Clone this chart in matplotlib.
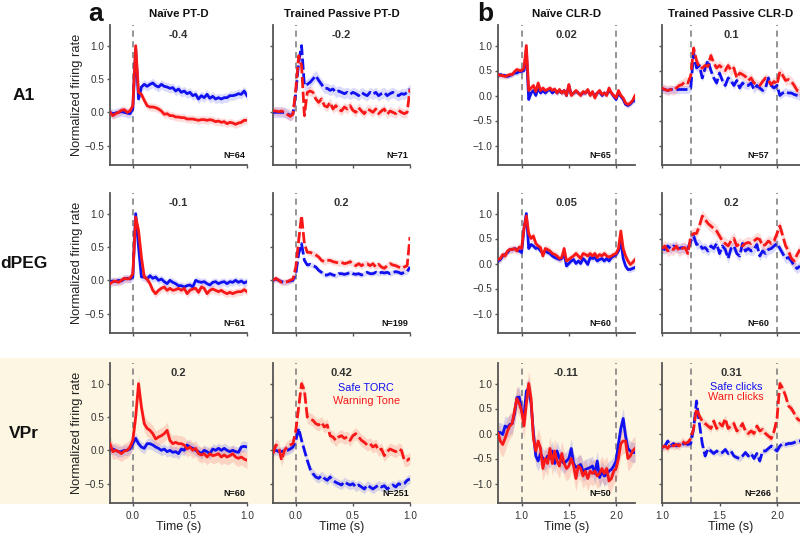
import numpy as np
import matplotlib
matplotlib.use('Agg')
import matplotlib.pyplot as plt
from matplotlib.patches import Rectangle
from matplotlib.ticker import FuncFormatter

plt.rcParams['font.family'] = ['Liberation Sans', 'DejaVu Sans']

# ---- data (normalized firing rate, 25 ms bins) ----
dt = 0.025
col_start = [-0.2, -0.2, 0.75, 1.0]   # first bin time of each column

row_names = ['A1', 'dPEG', 'VPr']
col_titles = ['Naïve PT-D', 'Trained Passive PT-D', 'Naïve CLR-D', 'Trained Passive CLR-D']
corr_vals = [['-0.4', '-0.2', '0.02', '0.1'],
             ['-0.1', '0.2', '0.05', '0.2'],
             ['0.2', '0.42', '-0.11', '0.31']]
n_units = [[64, 71, 65, 57],
           [61, 199, 60, 60],
           [60, 251, 50, 266]]
sem_safe = [[0.07, 0.08, 0.05, 0.08],
            [0.06, 0.04, 0.06, 0.10],
            [0.08, 0.07, 0.20, 0.06]]
sem_warn = [[0.06, 0.07, 0.06, 0.10],
            [0.06, 0.05, 0.08, 0.12],
            [0.12, 0.09, 0.25, 0.08]]

# A1
a1_pt_naive_safe = [0.0, -0.02, -0.01, 0.0, 0.01, 0.0, -0.01, -0.02,
                    0.05, 0.95, 0.2, 0.38, 0.42, 0.39, 0.42, 0.44,
                    0.4, 0.38, 0.42, 0.39, 0.38, 0.36, 0.37, 0.32,
                    0.35, 0.3, 0.32, 0.28, 0.3, 0.25, 0.27, 0.2,
                    0.25, 0.22, 0.27, 0.21, 0.24, 0.2, 0.22, 0.2,
                    0.22, 0.22, 0.25, 0.25, 0.26, 0.28, 0.27, 0.32,
                    0.25]
a1_pt_naive_warn = [0.0, -0.05, -0.02, 0.0, 0.03, 0.04, 0.0, 0.02,
                    0.1, 1.0, 0.3, 0.27, 0.18, 0.1, 0.08, 0.08,
                    0.07, 0.05, 0.02, -0.03, -0.02, -0.05, -0.05, -0.07,
                    -0.07, -0.08, -0.08, -0.1, -0.1, -0.1, -0.11, -0.12,
                    -0.11, -0.11, -0.12, -0.11, -0.12, -0.14, -0.13, -0.15,
                    -0.14, -0.17, -0.15, -0.16, -0.18, -0.16, -0.15, -0.12,
                    -0.12]
a1_pt_trained_safe = [0.0, 0.0, 0.0, 0.0, 0.0, -0.02, -0.05, -0.02,
                      0.3, 0.75, 1.0, 0.4, 0.42, 0.45, 0.5, 0.55,
                      0.48, 0.42, 0.36, 0.36, 0.33, 0.35, 0.3, 0.32,
                      0.3, 0.28, 0.3, 0.27, 0.3, 0.28, 0.25, 0.3,
                      0.27, 0.25, 0.3, 0.27, 0.3, 0.25, 0.28, 0.3,
                      0.25, 0.28, 0.3, 0.27, 0.25, 0.28, 0.27, 0.3,
                      0.35]
a1_pt_trained_warn = [0.02, 0.02, 0.01, 0.02, 0.0, -0.03, -0.06, -0.03,
                      0.35, 0.85, 0.7, -0.05, 0.3, 0.32, 0.3, 0.2,
                      0.15, 0.2, 0.1, 0.08, 0.15, 0.05, 0.1, 0.05,
                      0.02, 0.08, 0.05, 0.1, 0.03, 0.0, 0.07, 0.02,
                      -0.02, 0.05, 0.03, 0.0, 0.05, -0.02, 0.02, 0.05,
                      -0.03, 0.02, 0.0, -0.02, 0.03, 0.0, -0.02, 0.0,
                      0.35]
a1_clr_naive_safe = [0.4, 0.42, 0.4, 0.4, 0.38, 0.4, 0.42, 0.45, 0.45, 0.48,
                     0.48, 0.5, 0.9, -0.08, 0.05, 0.1, 0.0, 0.15, 0.05, 0.1,
                     0.05, 0.1, 0.12, 0.05, 0.1, 0.05, 0.1, 0.05, 0.1, 0.0,
                     0.2, 0.02, 0.05, 0.08, 0.05, 0.02, 0.05, 0.05, 0.1, 0.02,
                     0.05, 0.0, 0.05, 0.08, 0.0, 0.05, 0.02, 0.1, 0.05, -0.02,
                     -0.08, 0.05, -0.02, -0.08, -0.18, -0.2, -0.17, -0.12, -0.1]
a1_clr_naive_warn = [0.42, 0.4, 0.4, 0.38, 0.4, 0.42, 0.42, 0.48, 0.52, 0.5,
                     0.5, 0.55, 1.0, 0.1, 0.15, 0.2, 0.08, 0.25, 0.1, 0.15,
                     0.1, 0.12, 0.15, 0.1, 0.13, 0.05, 0.12, 0.05, 0.1, 0.0,
                     0.22, 0.0, 0.05, 0.1, 0.05, 0.0, 0.08, 0.05, 0.12, 0.0,
                     0.08, -0.05, 0.05, 0.1, 0.02, 0.05, 0.0, 0.15, 0.05, 0.0,
                     -0.05, 0.1, 0.0, -0.05, -0.15, -0.18, -0.15, -0.1, 0.0]
a1_clr_trained_safe = [0.13, 0.12, 0.1, 0.12, 0.12, 0.12, 0.12, 0.12, 0.12, 0.12,
                       0.15, 0.85, 0.55, 0.6, 0.35, 0.55, 0.7, 0.5, 0.35, 0.25,
                       0.45, 0.3, 0.2, 0.35, 0.3, 0.2, 0.3, 0.15, 0.25, 0.2,
                       0.2, 0.25, 0.12, 0.2, 0.15, 0.1, 0.15, 0.35, 0.2, 0.15,
                       0.2, 0.0, 0.05, 0.08, 0.05, 0.05, 0.02, 0.0, -0.02]
a1_clr_trained_warn = [0.15, 0.12, 0.1, 0.12, 0.1, 0.15, 0.2, 0.22, 0.28, 0.25,
                       0.4, 0.95, 0.7, 0.55, 0.55, 0.6, 0.58, 0.8, 0.65, 0.55,
                       0.6, 0.55, 0.5, 0.6, 0.5, 0.55, 0.35, 0.45, 0.42, 0.38,
                       0.3, 0.35, 0.25, 0.22, 0.2, 0.28, 0.35, 0.3, 0.22, 0.28,
                       0.22, 0.48, 0.4, 0.3, 0.32, 0.28, 0.2, 0.1, 0.08]

# dPEG
dpeg_pt_naive_safe = [-0.02, -0.01, -0.02, 0.0, -0.01, 0.02, 0.03, 0.02,
                      0.05, 1.0, 0.5, 0.05, 0.05, 0.02, 0.07, 0.03,
                      0.05, 0.0, 0.02, -0.02, -0.05, 0.0, -0.03, -0.05,
                      -0.08, -0.08, -0.1, -0.08, -0.07, -0.1, 0.0, -0.02,
                      -0.03, -0.02, -0.05, -0.07, -0.03, -0.02, -0.05, -0.03,
                      -0.02, -0.05, -0.02, -0.03, 0.0, -0.03, -0.01, -0.04,
                      -0.02]
dpeg_pt_naive_warn = [-0.05, -0.02, -0.01, -0.03, 0.0, 0.03, 0.02, 0.03,
                      0.1, 0.95, 0.75, 0.35, 0.05, 0.02, -0.05, -0.15,
                      -0.2, -0.15, -0.12, -0.1, -0.15, -0.12, -0.15, -0.14,
                      -0.12, -0.15, -0.12, -0.2, -0.15, -0.13, -0.12, -0.18,
                      -0.1, -0.12, -0.2, -0.15, -0.13, -0.15, -0.17, -0.15,
                      -0.18, -0.2, -0.18, -0.2, -0.18, -0.17, -0.17, -0.14,
                      -0.17]
dpeg_pt_trained_safe = [0.0, 0.02, 0.0, -0.02, -0.03, -0.02, -0.01, 0.0,
                        0.1, 0.4, 0.55, 0.3, 0.23, 0.24, 0.22, 0.2,
                        0.15, 0.12, 0.08, 0.08, 0.1, 0.08, 0.07, 0.1,
                        0.1, 0.09, 0.1, 0.12, 0.1, 0.09, 0.1, 0.08,
                        0.1, 0.12, 0.1, 0.1, 0.12, 0.1, 0.12, 0.11,
                        0.12, 0.1, 0.12, 0.13, 0.12, 0.1, 0.12, 0.13,
                        0.2]
dpeg_pt_trained_warn = [0.0, 0.03, 0.0, -0.03, -0.03, -0.02, 0.0, 0.02,
                        0.2, 0.6, 0.97, 0.55, 0.42, 0.42, 0.4, 0.38,
                        0.35, 0.3, 0.28, 0.3, 0.3, 0.28, 0.27, 0.26,
                        0.27, 0.25, 0.26, 0.28, 0.25, 0.22, 0.25, 0.22,
                        0.25, 0.25, 0.22, 0.25, 0.2, 0.24, 0.2, 0.18,
                        0.22, 0.25, 0.23, 0.22, 0.2, 0.18, 0.2, 0.22,
                        0.65]
dpeg_clr_naive_safe = [0.05, 0.08, 0.15, 0.18, 0.22, 0.28, 0.28, 0.3, 0.28, 0.25,
                       0.22, 0.7, 1.0, 0.3, 0.38, 0.35, 0.3, 0.32, 0.25, 0.2,
                       0.25, 0.22, 0.2, 0.15, 0.12, 0.1, 0.08, 0.1, 0.2, -0.05,
                       0.0, 0.05, 0.08, 0.0, 0.05, 0.0, 0.1, 0.05, -0.02, 0.12,
                       0.1, 0.12, 0.05, 0.08, 0.1, 0.05, 0.1, 0.05, 0.12, 0.15,
                       0.18, 0.25, 0.45, 0.1, -0.05, -0.12, -0.12, -0.1, -0.08]
dpeg_clr_naive_warn = [0.08, 0.1, 0.18, 0.15, 0.25, 0.28, 0.28, 0.3, 0.25, 0.33,
                       0.3, 0.7, 0.95, 0.6, 0.5, 0.55, 0.4, 0.35, 0.32, 0.15,
                       0.3, 0.28, 0.25, 0.2, 0.18, 0.15, 0.1, 0.12, 0.3, 0.05,
                       0.08, 0.12, 0.15, 0.2, 0.15, 0.1, 0.2, 0.18, 0.15, 0.2,
                       0.15, 0.2, 0.12, 0.18, 0.15, 0.2, 0.15, 0.13, 0.15, 0.18,
                       0.2, 0.3, 0.65, 0.3, 0.15, 0.05, -0.02, 0.02, 0.08]
dpeg_clr_trained_safe = [0.3, 0.28, 0.35, 0.3, 0.35, 0.32, 0.3, 0.32, 0.3, 0.3,
                         0.45, 0.55, 0.38, 0.4, 0.3, 0.32, 0.25, 0.35, 0.3, 0.4,
                         0.2, 0.35, 0.28, 0.1, 0.3, 0.35, 0.2, 0.15, 0.4, 0.25,
                         0.3, 0.25, 0.28, 0.38, 0.15, 0.25, 0.2, 0.28, 0.3, 0.35,
                         0.4, 0.3, 0.2, 0.1, 0.12, 0.05, -0.05, -0.1, -0.05]
dpeg_clr_trained_warn = [0.3, 0.35, 0.25, 0.3, 0.28, 0.35, 0.25, 0.3, 0.32, 0.2,
                         0.55, 0.6, 0.6, 0.75, 0.95, 0.88, 0.8, 0.75, 0.7, 0.65,
                         0.55, 0.45, 0.4, 0.35, 0.45, 0.5, 0.35, 0.4, 0.35, 0.4,
                         0.42, 0.4, 0.45, 0.5, 0.48, 0.35, 0.38, 0.45, 0.4, 0.45,
                         0.6, 0.75, 0.55, 0.35, 0.25, 0.1, 0.05, 0.18, 0.28]

# VPr
vpr_pt_naive_safe = [0.02, 0.02, 0.0, -0.02, -0.02, 0.0, 0.0, 0.02,
                     0.1, 0.18, 0.1, 0.05, 0.03, 0.1, 0.1, 0.08,
                     0.05, 0.03, 0.0, 0.02, -0.02, 0.0, -0.03, -0.02,
                     -0.05, 0.02, 0.0, 0.08, 0.05, 0.03, 0.0, -0.02,
                     -0.05, 0.0, -0.02, -0.05, 0.02, 0.0, 0.03, 0.0,
                     0.03, 0.0, -0.02, 0.0, -0.02, -0.03, 0.05, 0.06,
                     0.05]
vpr_pt_naive_warn = [0.1, -0.02, 0.0, -0.02, -0.05, -0.01, 0.0, 0.05,
                     0.15, 0.5, 1.0, 0.65, 0.4, 0.33, 0.3, 0.25,
                     0.17, 0.2, 0.22, 0.25, 0.3, 0.15, 0.1, 0.12,
                     0.1, 0.1, 0.08, 0.02, 0.05, 0.0, 0.03, -0.05,
                     -0.07, -0.05, -0.1, -0.05, -0.08, -0.07, -0.05, -0.1,
                     -0.07, -0.1, -0.08, -0.05, -0.1, -0.12, -0.1, -0.13,
                     -0.15]
vpr_pt_trained_safe = [0.0, 0.0, -0.02, -0.02, 0.0, 0.0, 0.02, 0.05,
                       0.15, 0.33, 0.15, 0.0, -0.15, -0.28, -0.35, -0.4,
                       -0.42, -0.38, -0.42, -0.45, -0.4, -0.45, -0.48, -0.5,
                       -0.52, -0.47, -0.5, -0.52, -0.5, -0.55, -0.52, -0.55,
                       -0.58, -0.52, -0.55, -0.58, -0.55, -0.52, -0.55, -0.53,
                       -0.58, -0.55, -0.52, -0.55, -0.5, -0.52, -0.5, -0.45,
                       -0.43]
vpr_pt_trained_warn = [-0.05, 0.08, 0.05, -0.15, 0.0, 0.05, 0.08, 0.1,
                       0.3, 0.65, 1.0, 0.9, 0.5, 0.47, 0.45, 0.4,
                       0.38, 0.42, 0.35, 0.38, 0.22, 0.2, 0.15, 0.2,
                       0.22, 0.18, 0.2, 0.15, 0.22, 0.25, 0.2, 0.15,
                       0.12, 0.08, 0.1, 0.05, 0.08, 0.0, 0.02, -0.08,
                       -0.02, 0.02, 0.0, -0.02, 0.02, 0.0, -0.15, -0.15,
                       -0.12]
vpr_clr_naive_safe = [0.02, 0.02, -0.02, 0.15, 0.12, 0.18, 0.2, 0.4, 0.72, 0.73,
                      0.45, 0.35, 0.85, 0.9, 0.6, 0.0, -0.45, -0.55, -0.4, -0.5,
                      -0.55, -0.45, -0.5, -0.35, -0.6, -0.35, -0.5, -0.55, -0.6, -0.55,
                      -0.5, -0.3, -0.6, -0.68, -0.65, -0.62, -0.75, -0.72, -0.7, -0.68,
                      -0.65, -0.8, -0.55, -0.88, -0.75, -0.85, -0.82, -0.75, -0.72, -0.65,
                      -0.55, -0.2, 0.1, 0.3, -0.05, -0.3, -0.35, -0.38, -0.38]
vpr_clr_naive_warn = [0.0, -0.15, -0.22, -0.1, 0.05, 0.15, 0.2, 0.45, 0.7, 0.6,
                      0.45, 0.15, 0.6, 1.0, 0.7, -0.1, -0.35, -0.15, -0.3, -0.7,
                      -0.5, -0.6, -0.3, -0.6, -0.35, -0.55, -0.65, -0.4, -0.6, -0.7,
                      -0.65, -0.5, -0.65, -0.9, -0.65, -0.7, -0.85, -0.75, -0.9, -0.75,
                      -0.8, -0.75, -0.85, -0.8, -0.7, -0.8, -0.7, -0.95, -0.9, -0.75,
                      -0.7, -0.5, -0.2, -0.15, -0.15, -0.5, -0.45, -0.35, -0.3]
vpr_clr_trained_safe = [-0.28, -0.25, -0.15, -0.25, -0.2, -0.25, -0.2, -0.22, -0.2, -0.22,
                        -0.2, 0.1, 0.65, 0.2, -0.2, -0.45, -0.3, -0.35, -0.4, -0.35,
                        -0.4, -0.38, -0.32, -0.4, -0.35, -0.45, -0.48, -0.5, -0.45, -0.38,
                        -0.45, -0.4, -0.5, -0.4, -0.55, -0.35, -0.35, -0.3, -0.25, -0.3,
                        -0.35, -0.25, -0.2, -0.22, -0.2, -0.2, -0.18, -0.15, -0.15]
vpr_clr_trained_warn = [-0.28, -0.25, -0.3, -0.2, -0.25, -0.22, -0.25, -0.15, -0.2, -0.18,
                        -0.1, 0.1, 0.5, 0.35, 0.25, 0.2, 0.15, 0.1, 0.25, 0.1,
                        0.2, 0.15, 0.3, 0.1, 0.15, 0.2, 0.05, 0.1, 0.2, 0.05,
                        0.0, 0.05, 0.0, 0.15, 0.05, 0.08, 0.0, -0.05, -0.1, 0.05,
                        0.3, 1.0, 0.9, 0.75, 0.55, 0.5, 0.4, 0.3, 0.25]

panels = [
    [(a1_pt_naive_safe, a1_pt_naive_warn), (a1_pt_trained_safe, a1_pt_trained_warn),
     (a1_clr_naive_safe, a1_clr_naive_warn), (a1_clr_trained_safe, a1_clr_trained_warn)],
    [(dpeg_pt_naive_safe, dpeg_pt_naive_warn), (dpeg_pt_trained_safe, dpeg_pt_trained_warn),
     (dpeg_clr_naive_safe, dpeg_clr_naive_warn), (dpeg_clr_trained_safe, dpeg_clr_trained_warn)],
    [(vpr_pt_naive_safe, vpr_pt_naive_warn), (vpr_pt_trained_safe, vpr_pt_trained_warn),
     (vpr_clr_naive_safe, vpr_clr_naive_warn), (vpr_clr_trained_safe, vpr_clr_trained_warn)],
]
onsets = [[0.0], [0.0], [1.0, 2.0], [1.25, 2.0]]

# ---- style ----
BLUE = '#1010f0'
RED = '#f81818'
BG = '#fcf6e2'
TXT = '#333333'
SPINE = '#555555'

W, H = 800, 537
col_left = [110, 273, 498, 662]
col_w = [137, 137, 137, 138]
row_top = [25, 193, 363]
ax_h = 140

fig = plt.figure(figsize=(8, 5.37), dpi=100)
fig.patches.append(Rectangle((0, (H - 503) / H), 1, (503 - 358) / H,
                             transform=fig.transFigure, color=BG, zorder=-10))

minus_fmt = FuncFormatter(lambda v, p: ('%.1f' % v).replace('-', '\u2212'))

for r in range(3):
    for c in range(4):
        ax = fig.add_axes([col_left[c] / W, (H - row_top[r] - ax_h) / H,
                           col_w[c] / W, ax_h / H])
        ax.set_facecolor(BG if r == 2 else 'white')
        safe, warn = panels[r][c]
        dashed = c in (1, 3)
        for vals, sem, col in ((safe, sem_safe[r][c], BLUE), (warn, sem_warn[r][c], RED)):
            v = np.array(vals)
            t = col_start[c] + dt * np.arange(len(v))
            ax.fill_between(t, v - sem, v + sem, color=col, alpha=0.15, lw=0, zorder=2)
            ax.plot(t, v, color=col, lw=2.0, zorder=3,
                    ls=(0, (4, 1.3)) if dashed else '-')
        for x in onsets[c]:
            ax.axvline(x, color='#777777', lw=1.1, ls=(0, (4, 3)), zorder=1)

        if c < 2:
            ax.set_xlim(-0.2, 1.0)
            ax.set_ylim(-0.79, 1.31)
            ax.set_xticks([0.0, 0.5, 1.0])
            ax.set_yticks([-0.5, 0.0, 0.5, 1.0])
        else:
            ax.set_xlim(0.75 if c == 2 else 1.0, 2.2)
            ax.set_ylim(-1.39, 1.41)
            ax.set_xticks([1.0, 1.5, 2.0])
            ax.set_yticks([-1.0, -0.5, 0.0, 0.5, 1.0])
        ax.xaxis.set_major_formatter(minus_fmt)
        ax.yaxis.set_major_formatter(minus_fmt)

        for s in ('top', 'right'):
            ax.spines[s].set_visible(False)
        for s in ('left', 'bottom'):
            ax.spines[s].set_color(SPINE)
            ax.spines[s].set_linewidth(1.3)
        ax.tick_params(length=2.5, width=1, color=SPINE, labelsize=7.2,
                       labelcolor=TXT, pad=1.5)
        ax.tick_params(axis='x', pad=3)
        if r < 2:
            ax.tick_params(axis='x', labelbottom=False)
        else:
            ax.set_xlabel('Time (s)', fontsize=9, color='#222222')
            ax.xaxis.set_label_coords(0.5, -0.13)
        if c in (1, 3):
            ax.tick_params(axis='y', labelleft=False)
        if c == 0:
            ax.set_ylabel('Normalized firing rate', fontsize=9.3, color='#222222')
            ax.yaxis.set_label_coords(-0.2, 0.5)

        ax.text(0.5, 0.925, corr_vals[r][c], transform=ax.transAxes, ha='center',
                va='center', fontsize=8, fontweight='bold', color=TXT)
        if c < 2:
            ax.text(0.99, 0.07, 'N=%d' % n_units[r][c], transform=ax.transAxes,
                    ha='right', va='center', fontsize=6.5, fontweight='bold', color='#111111')
        else:
            ax.text(0.745 if c == 2 else 0.695, 0.07, 'N=%d' % n_units[r][c],
                    transform=ax.transAxes, ha='center', va='center',
                    fontsize=6.5, fontweight='bold', color='#111111')

        if r == 2 and c == 1:
            ax.text(0.68, 0.82, 'Safe TORC', transform=ax.transAxes, ha='center',
                    va='center', fontsize=7.8, color=BLUE)
            ax.text(0.68, 0.725, 'Warning Tone', transform=ax.transAxes, ha='center',
                    va='center', fontsize=7.8, color=RED)
        if r == 2 and c == 3:
            ax.text(0.535, 0.826, 'Safe clicks', transform=ax.transAxes, ha='center',
                    va='center', fontsize=7.8, color=BLUE)
            ax.text(0.535, 0.755, 'Warn clicks', transform=ax.transAxes, ha='center',
                    va='center', fontsize=7.8, color=RED)

        if r == 0:
            fig.text((col_left[c] + col_w[c] / 2) / W, (H - 14) / H, col_titles[c],
                     ha='center', va='center', fontsize=8.2, fontweight='bold', color='#111111')

for r, name in enumerate(row_names):
    fig.text(24 / W, (H - row_top[r] - 70) / H, name, ha='center', va='center',
             fontsize=12.5, fontweight='bold', color='#111111')

fig.text(96 / W, (H - 21) / H, 'a', ha='center', va='baseline', fontsize=19,
         fontweight='bold', color='#111111')
fig.text(485 / W, (H - 21) / H, 'b', ha='center', va='baseline', fontsize=19,
         fontweight='bold', color='#111111')

fig.savefig('out.png', dpi=100)
